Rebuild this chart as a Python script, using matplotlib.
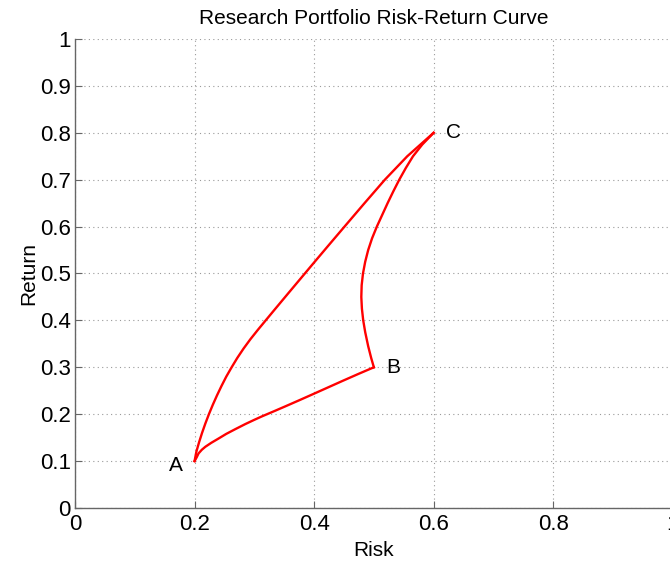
import matplotlib.pyplot as plt

plt.rcParams['font.family'] = ['Liberation Sans', 'DejaVu Sans']

# upper curve A -> C
ac_risk = [0.2000, 0.2030, 0.2075, 0.2125, 0.2180, 0.2240, 0.2305, 0.2375, 0.2450, 0.2530,
           0.2620, 0.2715, 0.2820, 0.2935, 0.3060, 0.3320, 0.3582, 0.3977, 0.4242, 0.4509,
           0.4844, 0.5184, 0.5559, 0.6000]
ac_ret = [0.10, 0.12, 0.14, 0.16, 0.18, 0.20, 0.22, 0.24, 0.26, 0.28,
          0.30, 0.32, 0.34, 0.36, 0.38, 0.42, 0.46, 0.52, 0.56, 0.60,
          0.65, 0.70, 0.75, 0.80]

# lower curve A -> B
ab_risk = [0.200, 0.2035, 0.2067, 0.212, 0.218, 0.228, 0.240, 0.253, 0.268, 0.285,
           0.300, 0.313, 0.332, 0.352, 0.376, 0.400, 0.424, 0.448, 0.474, 0.500]
ab_ret = [0.100, 0.108, 0.1164, 0.124, 0.1305, 0.139, 0.148, 0.158, 0.168, 0.179,
          0.188, 0.1955, 0.2058, 0.2168, 0.2302, 0.2438, 0.2575, 0.2712, 0.2858, 0.300]

# curve B -> C
bc_risk = [0.5000, 0.4955, 0.4905, 0.4855, 0.4822, 0.4800, 0.4790, 0.4796, 0.4818, 0.4855,
           0.4905, 0.4970, 0.5050, 0.5140, 0.5230, 0.5325, 0.5425, 0.5535, 0.5655, 0.5810, 0.6000]
bc_ret = [0.300, 0.320, 0.345, 0.375, 0.400, 0.425, 0.450, 0.475, 0.500, 0.525,
          0.550, 0.575, 0.600, 0.625, 0.650, 0.675, 0.700, 0.725, 0.750, 0.775, 0.800]

point_names = ['A', 'B', 'C']
label_x = [0.157, 0.52, 0.62]
label_y = [0.09, 0.30, 0.80]

xticks = [0, 0.2, 0.4, 0.6, 0.8, 1]
xtick_labels = ['0', '0.2', '0.4', '0.6', '0.8', '1']
yticks = [0, 0.1, 0.2, 0.3, 0.4, 0.5, 0.6, 0.7, 0.8, 0.9, 1]
ytick_labels = ['0', '0.1', '0.2', '0.3', '0.4', '0.5', '0.6', '0.7', '0.8', '0.9', '1']

fig = plt.figure(figsize=(6.7, 5.62), dpi=100)
ax = fig.add_axes([0.112, 0.0961, 0.892, 0.8345])

for xs, ys in [(ac_risk, ac_ret), (ab_risk, ab_ret), (bc_risk, bc_ret)]:
    ax.plot(xs, ys, color='red', lw=1.7, solid_joinstyle='round')

for name, tx, ty in zip(point_names, label_x, label_y):
    ax.text(tx, ty, name, fontsize=15, va='center', ha='left')

ax.set_xlim(0, 1)
ax.set_ylim(0, 1)
ax.set_xticks(xticks)
ax.set_xticklabels(xtick_labels)
ax.set_yticks(yticks)
ax.set_yticklabels(ytick_labels)
ax.grid(True, linestyle=(0, (1, 3)), color='#9a9a9a', lw=0.8)
ax.tick_params(direction='in', length=5, labelsize=16, color='#666666')
ax.tick_params(axis='x', pad=4)
ax.tick_params(axis='y', pad=3)
for side in ['top', 'right']:
    ax.spines[side].set_visible(False)
for side in ['left', 'bottom']:
    ax.spines[side].set_color('#666666')
    ax.spines[side].set_linewidth(1.0)

ax.set_title('Research Portfolio Risk-Return Curve', fontsize=15, pad=11)
ax.set_xlabel('Risk', fontsize=15, labelpad=4.5)
ax.set_ylabel('Return', fontsize=15, labelpad=1)

fig.savefig('out.png', dpi=100)
